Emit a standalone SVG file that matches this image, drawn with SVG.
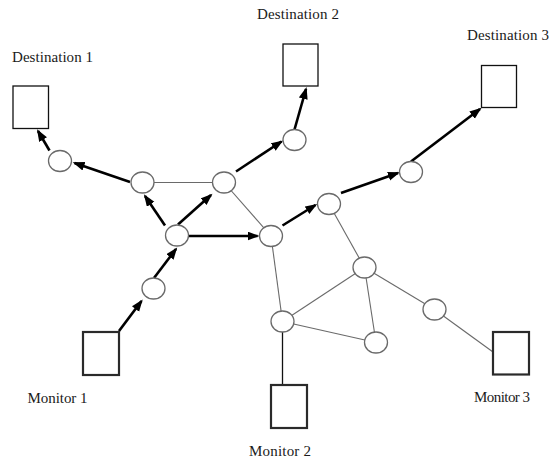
<svg xmlns="http://www.w3.org/2000/svg" width="549" height="459" viewBox="0 0 549 459">
<style>
.lbl{font-family:"Liberation Serif","Times New Roman",serif;font-size:15px;fill:#1a1a1a}
.node{fill:#fff;stroke:#6a6a6a;stroke-width:1.3}
.dest{fill:#fff;stroke:#111;stroke-width:1.3}
.mon{fill:#fff;stroke:#2a2a2a;stroke-width:2.2}
.thin{stroke:#6a6a6a;stroke-width:1.1;fill:none}
.blk{stroke:#111;stroke-width:1.3;fill:none}
.arr{stroke:#000;stroke-width:2.6;fill:none;marker-end:url(#ah)}
</style>
<defs>
<marker id="ah" markerUnits="userSpaceOnUse" markerWidth="13" markerHeight="10" refX="10" refY="4.5" orient="auto">
<path d="M0,0 L12,4.5 L0,9 z" fill="#000"/>
</marker>
</defs>
<g id="connectors">
<line class="thin" x1="142.5" y1="182.5" x2="224" y2="182.5"/>
<line class="thin" x1="224" y1="182.5" x2="271" y2="236"/>
<line class="thin" x1="329" y1="204" x2="364.5" y2="267.5"/>
<line class="thin" x1="271" y1="236" x2="282.5" y2="321.5"/>
<line class="thin" x1="364.5" y1="267.5" x2="282.5" y2="321.5"/>
<line class="thin" x1="364.5" y1="267.5" x2="376" y2="342.5"/>
<line class="thin" x1="282.5" y1="321.5" x2="376" y2="342.5"/>
<line class="thin" x1="364.5" y1="267.5" x2="434.5" y2="309.5"/>
<line class="thin" x1="434.5" y1="309.5" x2="493" y2="352"/>
<line class="blk" x1="282.5" y1="321.5" x2="282.5" y2="385"/>
<line class="arr" x1="119" y1="331" x2="141.5" y2="301"/>
<line class="arr" x1="154" y1="278" x2="176" y2="249"/>
<line class="arr" x1="165" y1="225.5" x2="145" y2="196"/>
<line class="arr" x1="178" y1="224.5" x2="211" y2="195"/>
<line class="arr" x1="188.5" y1="236" x2="257.5" y2="236"/>
<line class="arr" x1="130" y1="182" x2="74.5" y2="163"/>
<line class="arr" x1="49.5" y1="150.5" x2="38" y2="131"/>
<line class="arr" x1="236" y1="171.5" x2="281.5" y2="141.5"/>
<line class="arr" x1="294.5" y1="129.5" x2="306" y2="89"/>
<line class="arr" x1="282.5" y1="225.5" x2="315.5" y2="205"/>
<line class="arr" x1="341" y1="193" x2="398" y2="173"/>
<line class="arr" x1="411" y1="161.5" x2="480" y2="109"/>
</g>
<g id="n_a"><ellipse class="node" cx="60" cy="161" rx="11.5" ry="10.5"/></g>
<g id="n_b"><ellipse class="node" cx="142.5" cy="182.5" rx="11.5" ry="10.5"/></g>
<g id="n_c"><ellipse class="node" cx="177" cy="235.5" rx="11.5" ry="10.5"/></g>
<g id="n_d"><ellipse class="node" cx="224" cy="182.5" rx="11.5" ry="10.5"/></g>
<g id="n_e"><ellipse class="node" cx="271" cy="236" rx="11.5" ry="10.5"/></g>
<g id="n_f"><ellipse class="node" cx="153.5" cy="288.5" rx="11.5" ry="10.5"/></g>
<g id="n_g"><ellipse class="node" cx="294.5" cy="140" rx="11.5" ry="10.5"/></g>
<g id="n_h"><ellipse class="node" cx="329" cy="204" rx="11.5" ry="10.5"/></g>
<g id="n_i"><ellipse class="node" cx="411" cy="172" rx="11.5" ry="10.5"/></g>
<g id="n_j"><ellipse class="node" cx="364.5" cy="267.5" rx="11.5" ry="10.5"/></g>
<g id="n_k"><ellipse class="node" cx="282.5" cy="321.5" rx="11.5" ry="10.5"/></g>
<g id="n_l"><ellipse class="node" cx="376" cy="342.5" rx="11.5" ry="10.5"/></g>
<g id="n_m"><ellipse class="node" cx="434.5" cy="309.5" rx="11.5" ry="10.5"/></g>
<g id="dest1"><rect class="dest" x="13" y="86" width="35.5" height="42.5"/><text class="lbl" x="12" y="62" textLength="81">Destination 1</text></g>
<g id="dest2"><rect class="dest" x="283" y="44" width="35" height="42"/><text class="lbl" x="257" y="19" textLength="82">Destination 2</text></g>
<g id="dest3"><rect class="dest" x="481.5" y="65.5" width="35" height="42"/><text class="lbl" x="467" y="40" textLength="82">Destination 3</text></g>
<g id="mon1"><rect class="mon" x="83" y="332" width="36" height="43"/><text class="lbl" x="27.5" y="402.5" textLength="60">Monitor 1</text></g>
<g id="mon2"><rect class="mon" x="271" y="385" width="36" height="43"/><text class="lbl" x="249" y="456" textLength="62">Monitor 2</text></g>
<g id="mon3"><rect class="mon" x="493" y="332" width="36" height="42.5"/><text class="lbl" x="474" y="402" textLength="56">Monitor 3</text></g>
</svg>
